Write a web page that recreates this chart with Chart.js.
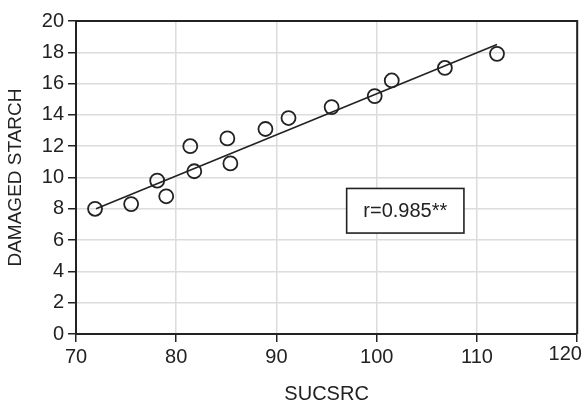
<!DOCTYPE html>
<html>
<head>
<meta charset="utf-8">
<script src="https://cdn.jsdelivr.net/npm/chart.js@4.4.1/dist/chart.umd.min.js"></script>
<style>
  html, body { margin: 0; padding: 0; background: #fff; }
  #wrap { width: 586px; height: 401px; position: relative; }
</style>
</head>
<body>
<div id="wrap"><canvas id="chart"></canvas></div>
<script>
// SUCSRC vs damaged starch
const sucsrc = [71.9, 75.5, 78.1, 79.0, 81.4, 81.8, 85.1, 85.4, 88.9, 91.2, 95.5, 99.8, 101.5, 106.8, 112.0];
const damagedStarch = [8.0, 8.3, 9.8, 8.8, 12.0, 10.4, 12.5, 10.9, 13.1, 13.8, 14.5, 15.2, 16.2, 17.0, 17.9];

// fitted line end points
const fitX = [72, 112];
const fitY = [8.0, 18.5];

const xTicks = [70, 80, 90, 100, 110, 120];
const yTicks = [0, 2, 4, 6, 8, 10, 12, 14, 16, 18, 20];
const rLabel = "r=0.985**";

const ink = "#222";
const font = "'Liberation Sans', Arial, sans-serif";

// frame, r box and the last x label (sits a bit left of its tick)
const framePlugin = {
    id: 'frame',
    afterDatasetsDraw(chart) {
        const { ctx, chartArea: a, scales } = chart;
        ctx.save();
        ctx.strokeStyle = ink;
        ctx.lineWidth = 2;
        ctx.beginPath();
        ctx.moveTo(a.left, a.top);
        ctx.lineTo(a.right, a.top);
        ctx.lineTo(a.right, a.bottom);
        ctx.stroke();

        // r label box
        const x0 = scales.x.getPixelForValue(97);
        const x1 = scales.x.getPixelForValue(108.7);
        const y0 = scales.y.getPixelForValue(9.3);
        const y1 = scales.y.getPixelForValue(6.45);
        ctx.fillStyle = "#fff";
        ctx.fillRect(x0, y0, x1 - x0, y1 - y0);
        ctx.lineWidth = 1.6;
        ctx.strokeRect(x0, y0, x1 - x0, y1 - y0);
        ctx.fillStyle = ink;
        ctx.font = "20px " + font;
        ctx.textAlign = "center";
        ctx.textBaseline = "middle";
        ctx.fillText(rLabel, (x0 + x1) / 2, (y0 + y1) / 2 + 1);

        const last = xTicks[xTicks.length - 1];
        ctx.textBaseline = "alphabetic";
        ctx.fillText(String(last), scales.x.getPixelForValue(last) - 12, 360);
        ctx.restore();
    }
};

const ctx = document.getElementById('chart').getContext('2d');

new Chart(ctx, {
    type: 'scatter',
    data: {
        datasets: [{
            data: sucsrc.map((x, i) => ({ x: x, y: damagedStarch[i] })),
            showLine: false,
            pointStyle: 'circle',
            pointRadius: 7,
            pointBorderWidth: 1.8,
            pointBorderColor: ink,
            pointBackgroundColor: 'rgba(0,0,0,0)'
        }, {
            data: fitX.map((x, i) => ({ x: x, y: fitY[i] })),
            showLine: true,
            borderColor: ink,
            borderWidth: 1.6,
            pointRadius: 0
        }]
    },
    options: {
        responsive: true,
        maintainAspectRatio: false,
        animation: false,
        layout: { padding: { top: 21, right: 5, left: 0, bottom: 0 } },
        plugins: { legend: { display: false }, tooltip: { enabled: false } },
        scales: {
            x: {
                type: 'linear',
                min: 70, max: 120,
                afterBuildTicks: (s) => { s.ticks = xTicks.map(v => ({ value: v })); },
                afterFit: (s) => { s.height = 67; s.paddingLeft = 0; s.paddingRight = 0; },
                grid: { color: '#dcdcdc', lineWidth: 1.5, tickColor: ink, tickLength: 8, tickWidth: 1.5 },
                border: { color: ink, width: 2 },
                ticks: {
                    color: ink, font: { size: 20, family: font }, padding: 3,
                    callback: (v) => v === xTicks[xTicks.length - 1] ? '' : v
                },
                title: { display: true, text: 'SUCSRC', color: ink, font: { size: 20, family: font }, padding: { top: 4, bottom: -5 } }
            },
            y: {
                type: 'linear',
                min: 0, max: 20,
                afterBuildTicks: (s) => { s.ticks = yTicks.map(v => ({ value: v })); },
                afterFit: (s) => { s.width = 76; },
                grid: { color: '#dcdcdc', lineWidth: 1.5, tickColor: ink, tickLength: 8, tickWidth: 1.5 },
                border: { color: ink, width: 2 },
                ticks: { color: ink, font: { size: 20, family: font }, padding: 4 },
                title: { display: true, text: 'DAMAGED STARCH', color: ink, font: { size: 19, family: font }, padding: { top: 4, bottom: 2 } }
            }
        }
    },
    plugins: [framePlugin]
});
</script>
</body>
</html>
